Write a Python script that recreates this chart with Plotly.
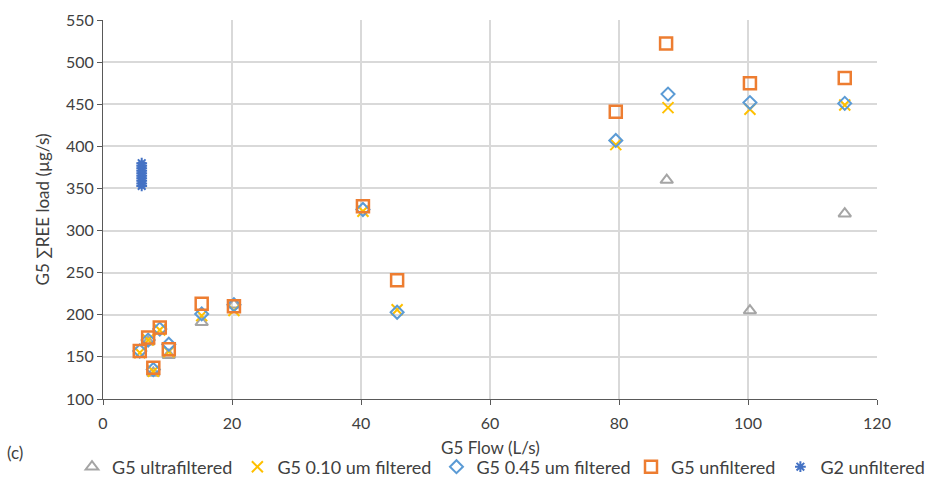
import plotly.graph_objects as go

# G5 flow (L/s) and total REE load (µg/s) by filtration fraction
uf_flow = [7.0, 7.8, 10.2, 15.3, 20.3, 87.4, 100.3, 115.0]
uf_load = [168, 131, 152, 191, 212, 360, 205, 320]

f010_flow = [5.7, 7.0, 7.8, 8.8, 10.2, 15.3, 20.3, 40.3, 45.6, 79.5, 87.6, 100.3, 115.0]
f010_load = [155, 170, 133, 182, 156, 199, 205, 323, 206, 402, 446, 444, 449]

f045_flow = [5.7, 7.0, 7.8, 8.8, 10.2, 15.3, 20.3, 40.3, 45.6, 79.5, 87.6, 100.3, 115.0]
f045_load = [157, 170, 135, 183, 165, 201, 212, 325, 203, 407, 462, 452, 451]

unf_flow = [5.7, 7.0, 7.8, 8.8, 10.2, 15.3, 20.3, 40.3, 45.6, 79.5, 87.3, 100.3, 115.0]
unf_load = [157, 173, 137, 185, 159, 213, 210, 329, 241, 441, 522, 475, 481]

g2_flow = [6.0, 6.0, 6.0, 6.0, 6.0, 6.0, 6.0, 6.0, 6.0, 6.0]
g2_load = [353, 356, 359, 362, 365, 368, 371, 374, 377, 380]

FONT = "Lato, 'Open Sans', sans-serif"
TXT = "#404040"

fig = go.Figure()
fig.add_trace(go.Scatter(
    x=uf_flow, y=uf_load, mode="markers", name="G5 ultrafiltered", legend="legend",
    marker=dict(symbol="triangle-up-open", size=11, color="#A5A5A5",
                line=dict(width=2, color="#A5A5A5"))))
fig.add_trace(go.Scatter(
    x=f010_flow, y=f010_load, mode="markers", name="G5 0.10 um filtered", legend="legend",
    marker=dict(symbol="x-thin-open", size=11, color="#FFC000",
                line=dict(width=2, color="#FFC000"))))
fig.add_trace(go.Scatter(
    x=f045_flow, y=f045_load, mode="markers", name="G5 0.45 um filtered", legend="legend",
    marker=dict(symbol="diamond-open", size=10, color="#5B9BD5",
                line=dict(width=2, color="#5B9BD5"))))
fig.add_trace(go.Scatter(
    x=unf_flow, y=unf_load, mode="markers", name="G5 unfiltered", legend="legend2",
    marker=dict(symbol="square-open", size=12, color="#ED7D31",
                line=dict(width=2.5, color="#ED7D31"))))
fig.add_trace(go.Scatter(
    x=g2_flow, y=g2_load, mode="markers", name="G2 unfiltered", legend="legend2",
    marker=dict(symbol="asterisk-open", size=9, color="#4472C4",
                line=dict(width=2, color="#4472C4"))))

legend_style = dict(orientation="h", xref="container", yref="container",
                    xanchor="left", y=12 / 479, yanchor="middle",
                    font=dict(family=FONT, size=18, color=TXT),
                    itemwidth=30, tracegroupgap=0, bgcolor="rgba(0,0,0,0)")

fig.update_layout(
    width=936, height=479,
    margin=dict(l=103, r=59, t=20, b=80, autoexpand=False),
    paper_bgcolor="white", plot_bgcolor="white",
    font=dict(family=FONT, size=17, color=TXT),
    showlegend=True,
    legend=dict(legend_style, x=72 / 936),
    legend2=dict(legend_style, x=631 / 936),
    xaxis=dict(range=[0, 120], dtick=20, showgrid=True, gridcolor="#D9D9D9",
               gridwidth=1.5, zeroline=False, showline=True, linecolor="#595959",
               linewidth=1, ticks="outside", ticklen=5, tickcolor="#595959",
               ticklabelstandoff=5,
               tickfont=dict(size=16, color=TXT)),
    yaxis=dict(range=[100, 550], dtick=50, showgrid=True, gridcolor="#D9D9D9",
               gridwidth=1.5, zeroline=False, showline=True, linecolor="#595959",
               linewidth=1, ticks="outside", ticklen=5, tickcolor="#595959",
               tickfont=dict(size=16, color=TXT),
               title=dict(text="G5 ∑REE load (µg/s)", standoff=12,
                          font=dict(size=17, color=TXT))),
)

# x-axis title placed below the tick labels
fig.add_annotation(text="G5 Flow (L/s)", xref="paper", yref="paper",
                   x=0.5, y=-(447 - 399) / 379, xanchor="center", yanchor="middle",
                   showarrow=False, font=dict(family=FONT, size=17, color=TXT))

fig.add_annotation(text="(c)", xref="paper", yref="paper", x=-0.127, y=-0.14,
                   xanchor="left", yanchor="middle", showarrow=False,
                   font=dict(family=FONT, size=17, color=TXT))

fig.write_html("out.html")
